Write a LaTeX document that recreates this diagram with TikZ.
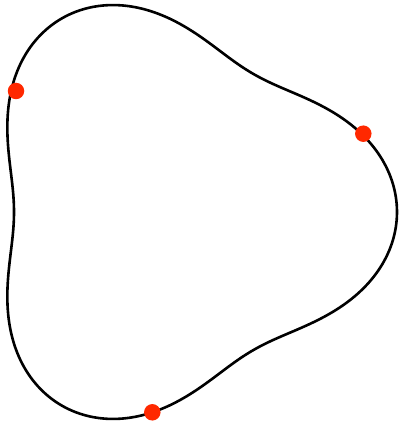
\documentclass[tikz,border=0pt]{standalone}
\usepackage{tikz}
\definecolor{dotred}{RGB}{255,40,0}
\tikzset{
  curveline/.style={line width=2.6pt, black},
  reddot/.style={circle, fill=dotred, draw=none, inner sep=0pt, minimum size=16.5pt}
}
\begin{document}
\begin{tikzpicture}[x=1pt,y=1pt]
\useasboundingbox (0,0) rectangle (399,-422);
\draw[curveline] plot[domain=0:358, samples=180, smooth cycle, variable=\t]
  ({173.5+(191.5+32*cos(3*\t))*cos(\t)}, {-212+(191.5+32*cos(3*\t))*sin(\t)});
\node[reddot] (d1) at (16,-91) {};
\node[reddot] (d2) at (363.3,-133.7) {};
\node[reddot] (d3) at (152.3,-412.3) {};
\end{tikzpicture}
\end{document}
